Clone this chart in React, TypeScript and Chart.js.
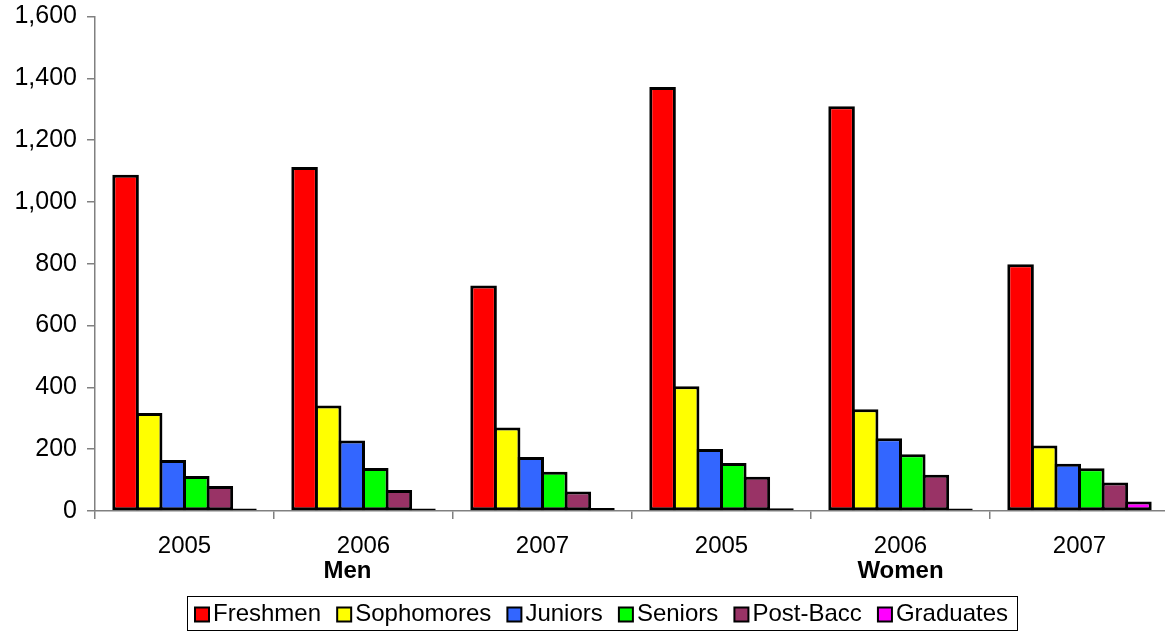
import React, { useEffect, useRef } from 'react';
import { Chart, registerables } from 'chart.js';

Chart.register(...registerables);

const categories = ['2005', '2006', '2007', '2005', '2006', '2007'];
const groupLabels = ['Men', 'Women'];
const seriesNames = ['Freshmen', 'Sophomores', 'Juniors', 'Seniors', 'Post-Bacc', 'Graduates'];
const freshmen = [1088, 1113, 730, 1372, 1310, 798];
const sophomores = [317, 341, 270, 404, 329, 212];
const juniors = [165, 228, 175, 201, 235, 153];
const seniors = [113, 139, 127, 155, 184, 138];
const postBacc = [81, 68, 63, 111, 117, 92];
const graduates = [3, 3, 10, 9, 8, 31];
const seriesColors = ['#FF0000', '#FFFF00', '#3366FF', '#00FF00', '#993366', '#FF00FF'];
const yMin = 0;
const yMax = 1600;
const yStep = 200;

const FONT = '"Liberation Sans", Arial, Helvetica, sans-serif';

const overlayPlugin = {
  id: 'overlay',
  afterDraw(chart: any) {
    const ctx = chart.ctx;
    const xs = chart.scales.x;
    ctx.save();
    ctx.fillStyle = '#000';
    ctx.font = `bold 24px ${FONT}`;
    ctx.textAlign = 'center';
    ctx.textBaseline = 'middle';
    groupLabels.forEach((g, gi) => {
      const centerIdx = gi * 3 + 1;
      const off = gi === 0 ? -16 : 0;
      ctx.fillText(g, xs.getPixelForValue(centerIdx) + off, 571.5);
    });

    // legend
    const boxL = 187.5, boxT = 596.5, boxW = 830, boxH = 34;
    ctx.strokeStyle = '#000';
    ctx.lineWidth = 1;
    ctx.strokeRect(boxL, boxT, boxW, boxH);
    ctx.font = `24px ${FONT}`;
    ctx.textAlign = 'left';
    const sq = 14, gap = 4;
    const widths = seriesNames.map((n) => ctx.measureText(n).width);
    const startX = 195, endX = 1008;
    const itemsW = widths.reduce((a, b) => a + b, 0) + seriesNames.length * (sq + gap);
    const spacing = (endX - startX - itemsW) / (seriesNames.length - 1);
    const cy = boxT + boxH / 2 + 1;
    let x = startX;
    seriesNames.forEach((n, i) => {
      ctx.fillStyle = seriesColors[i];
      ctx.fillRect(x, cy - sq / 2, sq, sq);
      ctx.lineWidth = 2;
      ctx.strokeStyle = '#000';
      ctx.strokeRect(x, cy - sq / 2, sq, sq);
      ctx.fillStyle = '#000';
      ctx.fillText(n, x + sq + gap, cy);
      x += sq + gap + widths[i] + spacing;
    });
    ctx.restore();
  },
};

export default function App() {
  const ref = useRef<HTMLCanvasElement | null>(null);
  useEffect(() => {
    document.body.style.margin = '0';
    const seriesValues = [freshmen, sophomores, juniors, seniors, postBacc, graduates];
    const chart = new Chart(ref.current as HTMLCanvasElement, {
      type: 'bar',
      data: {
        labels: categories,
        datasets: seriesNames.map((name, i) => ({
          label: name,
          data: seriesValues[i],
          backgroundColor: seriesColors[i],
          borderColor: '#000',
          borderWidth: 3,
          borderSkipped: false,
          inflateAmount: 0,
          minBarLength: 2.5,
          categoryPercentage: 0.79,
          barPercentage: 1.127,
        })),
      },
      options: {
        responsive: false,
        animation: false,
        devicePixelRatio: 1,
        layout: { padding: { top: 16.5, right: 2, left: 0, bottom: 0 } },
        plugins: { legend: { display: false }, tooltip: { enabled: false } },
        scales: {
          x: {
            offset: true,
            grid: {
              display: true,
              drawOnChartArea: false,
              drawTicks: true,
              tickLength: 8,
              color: '#808080',
              lineWidth: 1.5,
              offset: true,
            },
            border: { display: true, color: '#808080', width: 1.5 },
            ticks: {
              font: { family: FONT, size: 24 },
              color: '#000',
              padding: 13,
              maxRotation: 0,
              autoSkip: false,
            },
            afterFit: (s: any) => {
              s.height = 120;
              s.paddingLeft = 0;
              s.paddingRight = 0;
            },
          },
          y: {
            min: yMin,
            max: yMax,
            ticks: {
              stepSize: yStep,
              font: { family: FONT, size: 25 },
              color: '#000',
              padding: 10,
              callback: (v: any) => Number(v).toLocaleString('en-US'),
            },
            grid: {
              drawOnChartArea: false,
              drawTicks: true,
              tickLength: 8,
              color: '#808080',
              lineWidth: 1.5,
            },
            border: { display: true, color: '#808080', width: 1.5 },
            afterFit: (s: any) => {
              s.width = 95;
              s.paddingTop = 0;
              s.paddingBottom = 0;
            },
          },
        },
      },
      plugins: [overlayPlugin],
    });
    return () => chart.destroy();
  }, []);
  return (
    <div style={{ width: 1165, height: 631, overflow: 'hidden' }}>
      <canvas ref={ref} width={1171} height={631} style={{ display: 'block' }} />
    </div>
  );
}
